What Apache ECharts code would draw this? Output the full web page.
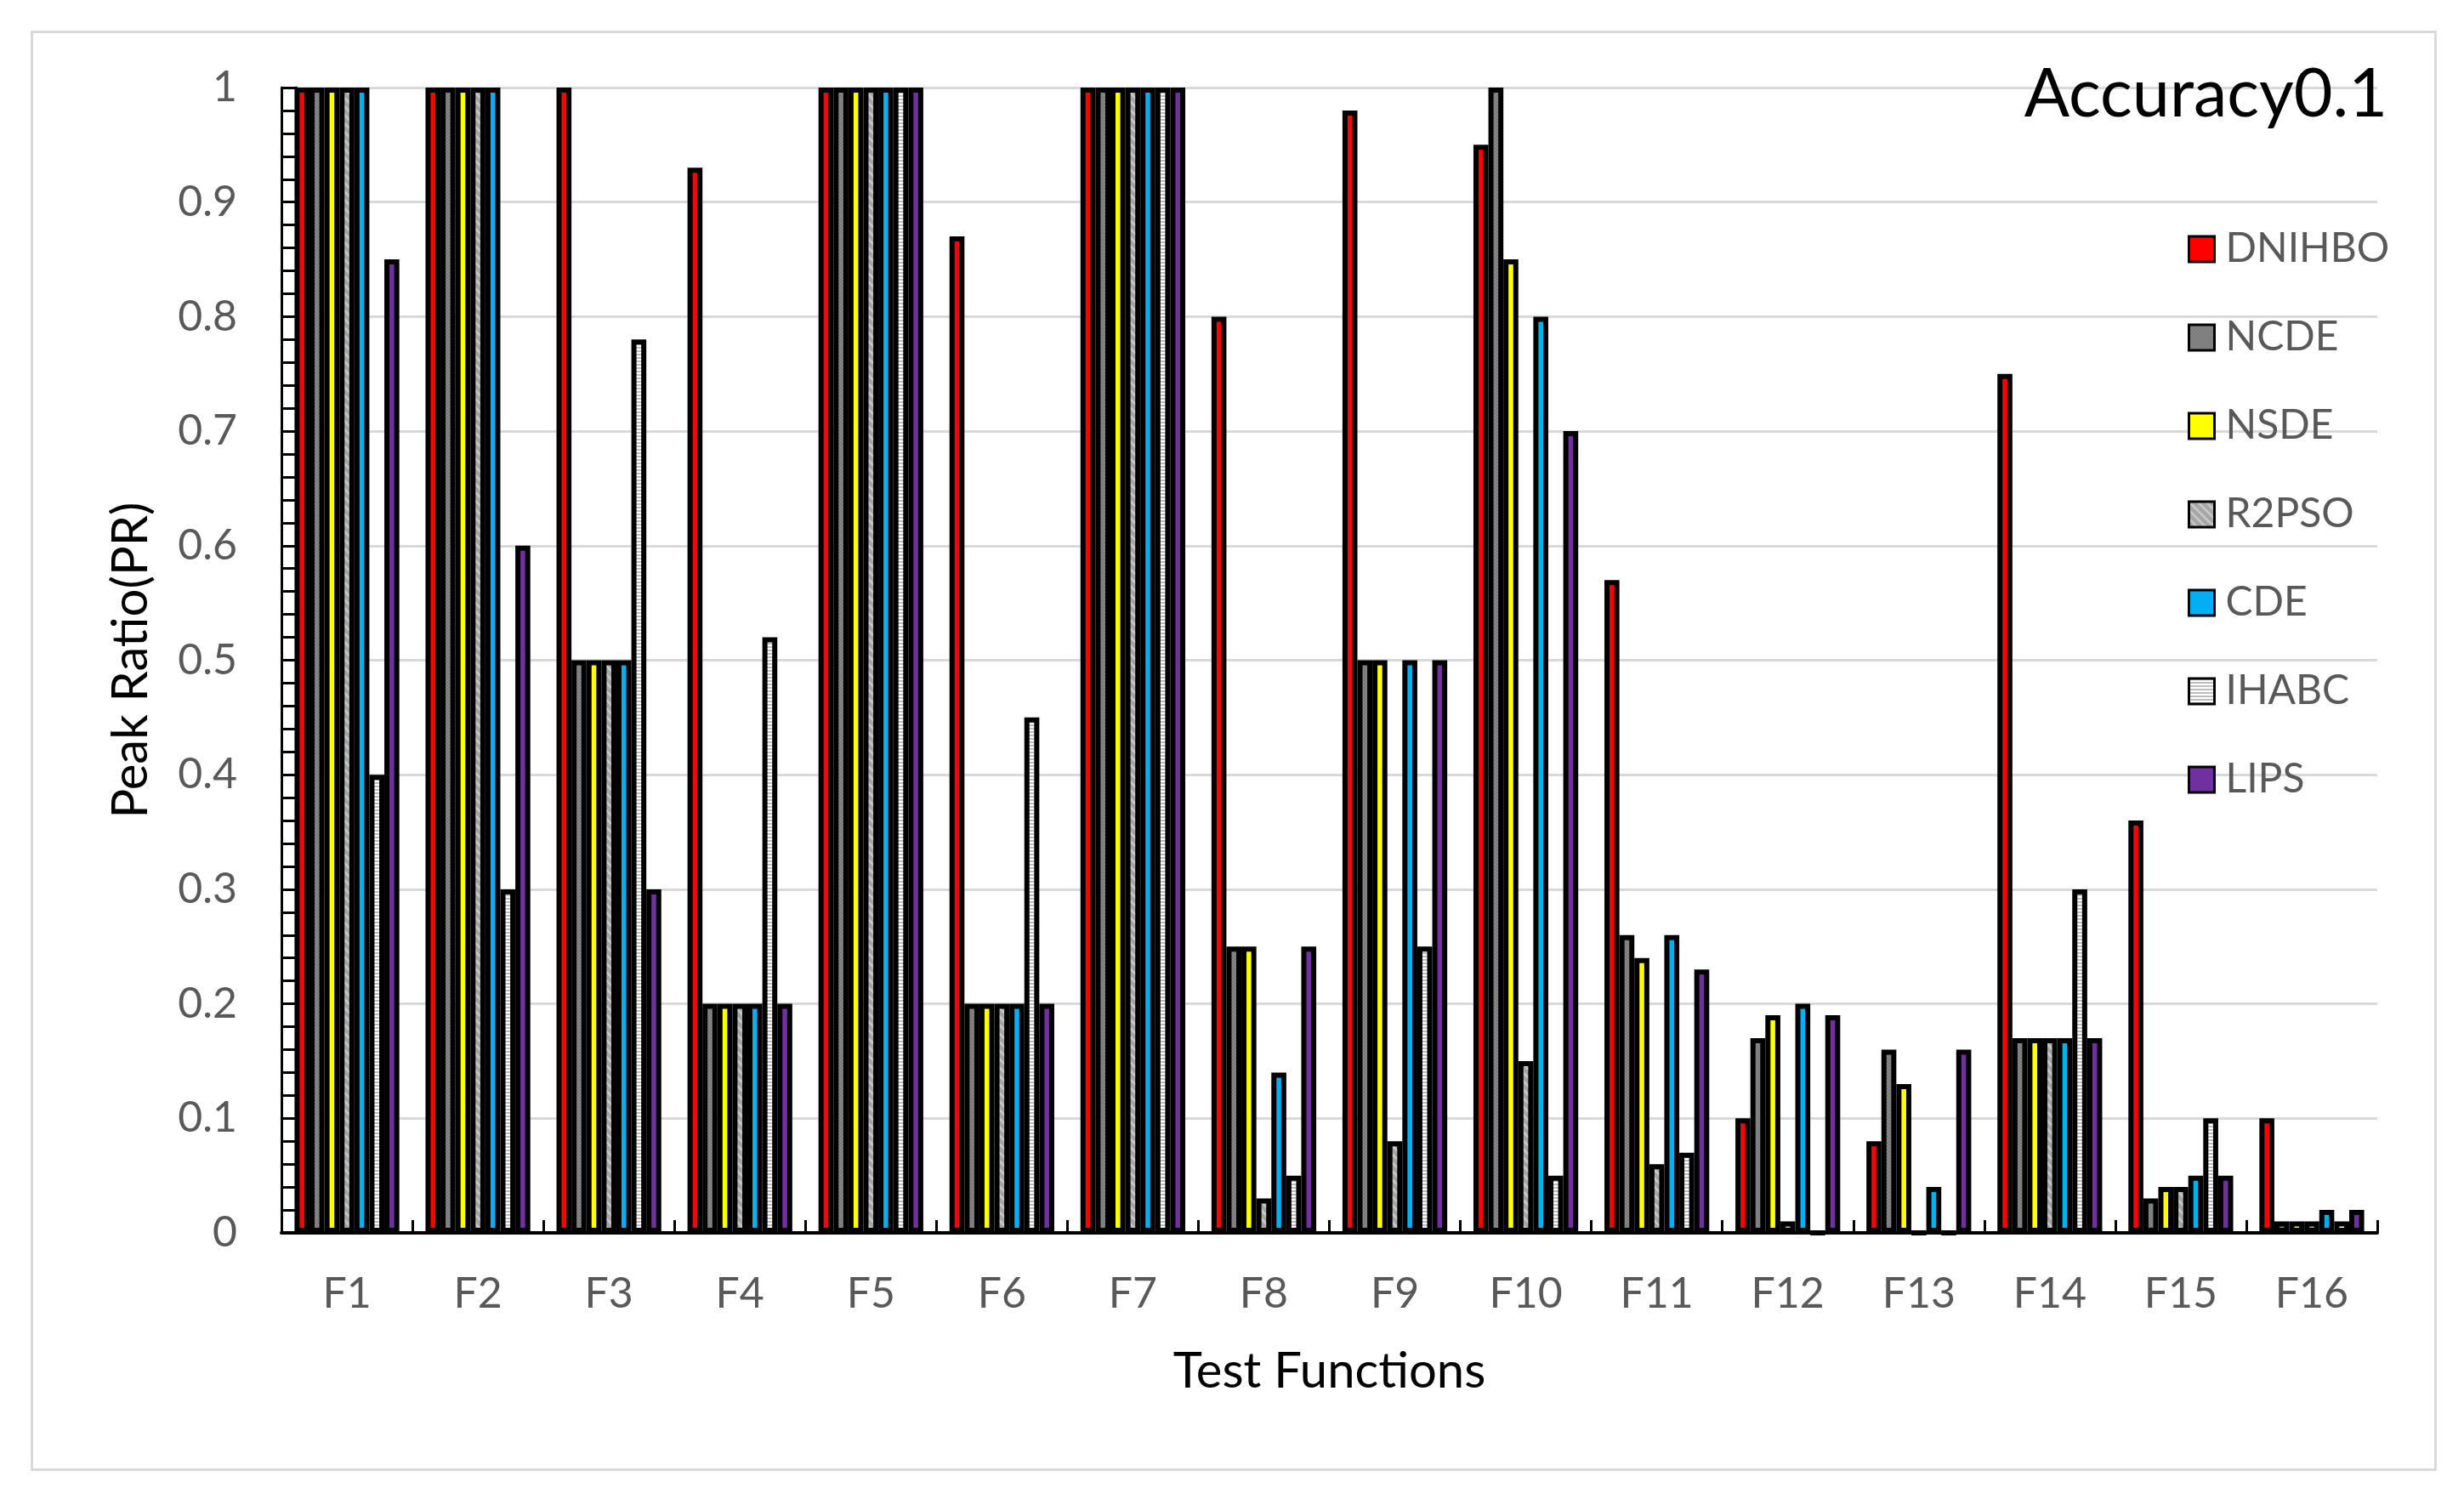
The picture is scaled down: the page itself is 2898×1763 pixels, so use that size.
<!DOCTYPE html>
<html>
<head>
<meta charset="utf-8">
<script src="https://cdn.jsdelivr.net/npm/echarts@6/dist/echarts.min.js"></script>
<style>
  html, body { margin: 0; padding: 0; background: #ffffff; }
  #frame { position: absolute; left: 36px; top: 36px; width: 2830px; height: 1694px; box-sizing: border-box; border: 3px solid #d9d9d9; }
  #chart { position: absolute; left: 0; top: 0; width: 2898px; height: 1763px; }
</style>
</head>
<body>
<div id="frame"></div>
<div id="chart"></div>
<script>
const categories = ['F1','F2','F3','F4','F5','F6','F7','F8','F9','F10','F11','F12','F13','F14','F15','F16'];
const seriesNames = ['DNIHBO','NCDE','NSDE','R2PSO','CDE','IHABC','LIPS'];
const dnihbo = [1,1,1,0.93,1,0.87,1,0.8,0.98,0.95,0.57,0.1,0.08,0.75,0.36,0.1];
const ncde   = [1,1,0.5,0.2,1,0.2,1,0.25,0.5,1,0.26,0.17,0.16,0.17,0.03,0.01];
const nsde   = [1,1,0.5,0.2,1,0.2,1,0.25,0.5,0.85,0.24,0.19,0.13,0.17,0.04,0.01];
const r2pso  = [1,1,0.5,0.2,1,0.2,1,0.03,0.08,0.15,0.06,0.01,0,0.17,0.04,0.01];
const cde    = [1,1,0.5,0.2,1,0.2,1,0.14,0.5,0.8,0.26,0.2,0.04,0.17,0.05,0.02];
const ihabc  = [0.4,0.3,0.78,0.52,1,0.45,1,0.05,0.25,0.05,0.07,0,0,0.3,0.1,0.01];
const lips   = [0.85,0.6,0.3,0.2,1,0.2,1,0.25,0.5,0.7,0.23,0.19,0.16,0.17,0.05,0.02];
const seriesValues = [dnihbo, ncde, nsde, r2pso, cde, ihabc, lips];
const yMin = 0, yMax = 1, yInterval = 0.1;

function makeCanvas(w, h, draw) {
  const c = document.createElement('canvas');
  c.width = w; c.height = h;
  draw(c.getContext('2d'));
  return c;
}
const ncdePattern = makeCanvas(4, 4, ctx => {
  ctx.fillStyle = '#808080'; ctx.fillRect(0, 0, 4, 4);
  ctx.fillStyle = '#6b6b6b'; ctx.fillRect(0, 0, 1, 1); ctx.fillRect(2, 2, 1, 1);
  ctx.fillStyle = '#959595'; ctx.fillRect(2, 0, 1, 1); ctx.fillRect(0, 2, 1, 1);
});
const r2psoPattern = makeCanvas(10, 10, ctx => {
  ctx.fillStyle = '#a6a6a6'; ctx.fillRect(0, 0, 10, 10);
  ctx.strokeStyle = '#cacaca'; ctx.lineWidth = 2.5;
  ctx.beginPath();
  ctx.moveTo(-10, -10); ctx.lineTo(20, 20);
  ctx.moveTo(-10, 0); ctx.lineTo(10, 20);
  ctx.moveTo(0, -10); ctx.lineTo(20, 10);
  ctx.stroke();
});
const ihabcPattern = makeCanvas(4, 4, ctx => {
  ctx.fillStyle = '#ffffff'; ctx.fillRect(0, 0, 4, 4);
  ctx.fillStyle = '#bdbdbd'; ctx.fillRect(0, 0, 4, 2);
});
const fills = ['#ff0000', {image: ncdePattern, repeat: 'repeat'}, '#ffff00',
  {image: r2psoPattern, repeat: 'repeat'}, '#00b0f0', {image: ihabcPattern, repeat: 'repeat'}, '#7030a0'];

const chart = echarts.init(document.getElementById('chart'), null, {renderer: 'canvas'});
const FONT = 'Lato';
const option = {
  backgroundColor: 'transparent',
  animation: false,
  title: {
    text: 'Accuracy0.1', right: 90, top: 72, padding: 0,
    textStyle: {fontFamily: FONT, fontSize: 79, fontWeight: 'normal', color: '#000000'}
  },
  legend: {
    orient: 'vertical', left: 2573, top: 269, padding: 0,
    itemWidth: 30, itemHeight: 30, itemGap: 56,
    icon: 'rect',
    itemStyle: {borderColor: '#000000', borderWidth: 3},
    textStyle: {fontFamily: FONT, fontSize: 48, color: '#595959', lineHeight: 30, padding: [0, 0, 0, 8]},
    data: seriesNames
  },
  grid: {left: 331, right: 102, top: 103, bottom: 313, containLabel: false},
  xAxis: {
    type: 'category', data: categories,
    name: 'Test Functions', nameLocation: 'middle', nameGap: 134,
    nameTextStyle: {fontFamily: FONT, fontSize: 58, color: '#000000'},
    axisLine: {show: true, lineStyle: {color: '#000000', width: 4}},
    axisTick: {show: true, inside: true, length: 15, lineStyle: {color: '#000000', width: 3}},
    axisLabel: {fontFamily: FONT, fontSize: 50, color: '#595959', margin: 47}
  },
  yAxis: [{
    type: 'value', min: yMin, max: yMax, interval: yInterval,
    name: 'Peak Ratio(PR)', nameLocation: 'middle', nameGap: 148, nameRotate: 90,
    nameTextStyle: {fontFamily: FONT, fontSize: 58, color: '#000000'},
    axisLine: {show: true, lineStyle: {color: '#000000', width: 3}},
    axisTick: {show: true, inside: true, length: 17, lineStyle: {color: '#000000', width: 3}},
    minorTick: {show: true, splitNumber: 5, length: 17, lineStyle: {color: '#000000', width: 3}},
    axisLabel: {fontFamily: FONT, fontSize: 50, color: '#595959', margin: 52},
    splitLine: {show: true, lineStyle: {color: '#d9d9d9', width: 3}}
  }, {
    type: 'value', min: yMin, max: yMax, interval: yInterval, position: 'left', offset: -17,
    axisLine: {show: true, lineStyle: {color: '#000000', width: 3}},
    axisTick: {show: false}, axisLabel: {show: false}, splitLine: {show: false}
  }],
  series: seriesNames.map((name, i) => ({
    name: name, type: 'bar', data: seriesValues[i],
    barGap: '0%', barCategoryGap: '20%',
    itemStyle: {color: fills[i], borderColor: '#000000', borderWidth: 6}
  }))
};
chart.setOption(option);
</script>
</body>
</html>
